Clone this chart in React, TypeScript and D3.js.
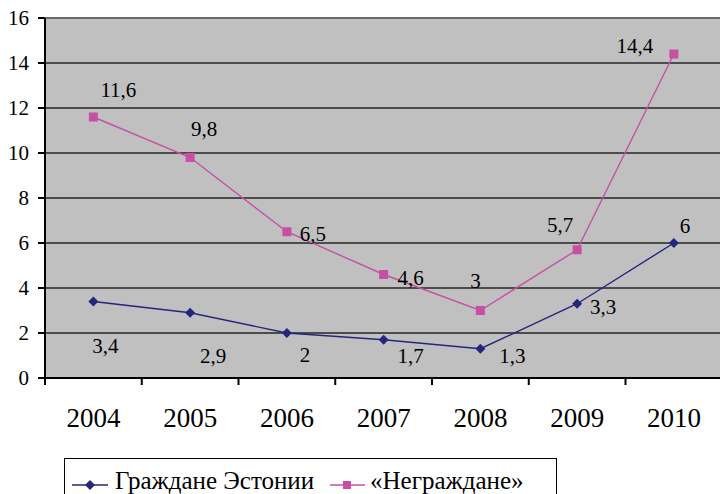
import React from 'react';
import * as d3 from 'd3';

// years and values
const years = ['2004', '2005', '2006', '2007', '2008', '2009', '2010'];
const citizens = [3.4, 2.9, 2, 1.7, 1.3, 3.3, 6];
const nonCitizens = [11.6, 9.8, 6.5, 4.6, 3, 5.7, 14.4];
const yTicks = [0, 2, 4, 6, 8, 10, 12, 14, 16];
const seriesNames = ['Граждане Эстонии', '«Неграждане»'];

// hand-placed label offsets (like the original Excel chart)
const citizenLabelOffsets = [[12, 44], [23, 43], [18, 22], [27, 16], [32, 7], [26, 3], [11, -17]];
const nonCitizenLabelOffsets = [[25, -27], [14, -29], [26, 2], [27, 3], [-5, -30], [-17, -25], [-39, -8]];

const width = 720;
const height = 494;
const plot = { left: 45, top: 18, right: 722.25, bottom: 378 };
const font = 'Liberation Serif, Times New Roman, Tinos, DejaVu Serif, serif';
const blue = '#25257d';
const pink = '#c84fa6';

const fmt = (v: number) => String(v).replace('.', ',');

const App = () => {
  const x = d3.scaleBand().domain(years).range([plot.left, plot.right]).padding(0);
  const y = d3.scaleLinear().domain([0, 16]).range([plot.bottom, plot.top]);
  const cx = (d: string) => (x(d) as number) + x.bandwidth() / 2;

  const line = d3.line<number>()
    .x((_, i) => cx(years[i]))
    .y(v => y(v));

  const diamond = (px: number, py: number, r: number) =>
    `M${px},${py - r}L${px + r},${py}L${px},${py + r}L${px - r},${py}Z`;

  const boundaries = d3.range(years.length + 1).map(i => plot.left + i * x.step());
  const txt = { fontFamily: font, fill: '#000' };

  return (
    <div style={{ position: 'absolute', left: 0, top: 0 }}>
      <style>{'body{margin:0} svg text{font-family:"Liberation Serif","Times New Roman",serif}'}</style>
      <svg width={width} height={height} style={{ display: 'block', background: '#fff' }}>
        {/* plot background */}
        <rect x={plot.left} y={plot.top} width={plot.right - plot.left} height={plot.bottom - plot.top} fill="#c0c0c0" />

        {/* gridlines */}
        {yTicks.filter(t => t > 0 && t < 16).map(t => (
          <line key={t} x1={plot.left} x2={plot.right} y1={y(t)} y2={y(t)} stroke="#262626" strokeWidth={1.6} />
        ))}
        <line x1={plot.left} x2={plot.right} y1={y(16)} y2={y(16)} stroke="#6a6a6a" strokeWidth={1.8} />

        {/* axes */}
        <line x1={plot.left} x2={plot.left} y1={plot.top} y2={plot.bottom + 7} stroke="#000" strokeWidth={2} />
        <line x1={plot.left - 7} x2={plot.right} y1={plot.bottom} y2={plot.bottom} stroke="#000" strokeWidth={2} />
        {yTicks.map(t => (
          <g key={t}>
            <line x1={plot.left - 7} x2={plot.left} y1={y(t)} y2={y(t)} stroke="#000" strokeWidth={2} />
            <text x={29} y={y(t)} dy="0.34em" textAnchor="end" style={{ ...txt, fontSize: 21 }}>{t}</text>
          </g>
        ))}
        {boundaries.map((bx, i) => (
          <line key={i} x1={bx} x2={bx} y1={plot.bottom} y2={plot.bottom + 7} stroke="#000" strokeWidth={2} />
        ))}
        {years.map(yr => (
          <text key={yr} x={cx(yr)} y={418} dy="0.34em" textAnchor="middle" style={{ ...txt, fontSize: 27 }}>{yr}</text>
        ))}

        {/* series lines */}
        <path d={line(nonCitizens) as string} fill="none" stroke={pink} strokeWidth={1.4} />
        <path d={line(citizens) as string} fill="none" stroke={blue} strokeWidth={1.4} />

        {nonCitizens.map((v, i) => (
          <rect key={i} x={cx(years[i]) - 4.5} y={y(v) - 4.5} width={9} height={9} fill={pink} />
        ))}
        {citizens.map((v, i) => (
          <path key={i} d={diamond(cx(years[i]), y(v), 5)} fill={blue} />
        ))}

        {/* data labels */}
        {nonCitizens.map((v, i) => (
          <text key={i} x={cx(years[i]) + nonCitizenLabelOffsets[i][0]} y={y(v) + nonCitizenLabelOffsets[i][1]}
            dy="0.34em" textAnchor="middle" style={{ ...txt, fontSize: 21 }}>{fmt(v)}</text>
        ))}
        {citizens.map((v, i) => (
          <text key={i} x={cx(years[i]) + citizenLabelOffsets[i][0]} y={y(v) + citizenLabelOffsets[i][1]}
            dy="0.34em" textAnchor="middle" style={{ ...txt, fontSize: 21 }}>{fmt(v)}</text>
        ))}

        {/* legend */}
        <rect x={64.5} y={458.5} width={492} height={60} fill="#fff" stroke="#000" strokeWidth={1} />
        <line x1={72} x2={108} y1={485} y2={485} stroke={blue} strokeWidth={1.6} />
        <path d={diamond(90, 485, 5)} fill={blue} />
        <text x={115} y={489} style={{ ...txt, fontSize: 25 }}>{seriesNames[0]}</text>
        <line x1={330} x2={365} y1={485} y2={485} stroke={pink} strokeWidth={1.6} />
        <rect x={343} y={481} width={8} height={8} fill={pink} />
        <text x={370} y={489} style={{ ...txt, fontSize: 25 }}>{seriesNames[1]}</text>
      </svg>
    </div>
  );
};

export default App;
